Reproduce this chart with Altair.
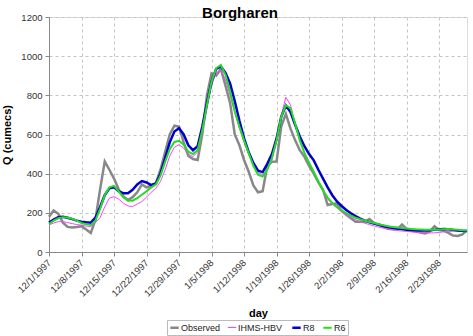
import altair as alt
import pandas as pd

# ---------------- data ----------------
start_date = "1997-12-01"
n_days = 91
dates = pd.date_range(start_date, periods=n_days, freq="D").strftime("%Y-%m-%d").tolist()

observed = [180, 212, 195, 150, 128, 125, 128, 132, 115, 97,
            165, 320, 462, 420, 375, 320, 285, 265, 280, 305,
            345, 330, 338, 350, 420, 510, 600, 645, 640, 560,
            490, 475, 470, 600, 800, 912, 900, 935, 850, 760,
            600, 545, 470, 410, 340, 305, 310, 440, 461, 462,
            640, 705, 630, 570, 520, 486, 440, 400, 355, 318,
            240, 245, 248, 210, 190, 172, 155, 155, 155, 168,
            148, 140, 128, 118, 116, 116, 140, 118, 110, 105,
            100, 95, 105, 132, 112, 108, 98, 84, 82, 90, 112]

ihms_hbv = [138, 148, 155, 155, 150, 145, 140, 137, 132, 130,
            150, 175, 230, 275, 283, 270, 250, 235, 232, 245,
            258, 280, 305, 325, 360, 420, 490, 535, 548, 530,
            500, 487, 510, 600, 730, 850, 915, 928, 880, 800,
            710, 630, 560, 500, 445, 405, 395, 420, 470, 560,
            700, 790, 750, 650, 570, 510, 460, 410, 360, 310,
            270, 245, 225, 205, 190, 176, 165, 155, 147, 140,
            133, 127, 122, 117, 113, 110, 107, 105, 103, 101,
            99, 98, 97, 98, 100, 103, 105, 106, 107, 108, 110]

r8 = [150, 165, 178, 180, 175, 168, 160, 155, 152, 150,
      175, 230, 290, 325, 330, 310, 300, 300, 318, 345,
      362, 355, 342, 350, 400, 480, 560, 615, 632, 600,
      545, 520, 540, 640, 760, 870, 935, 948, 915, 860,
      770, 670, 580, 510, 455, 415, 408, 450, 500, 580,
      690, 748, 715, 650, 590, 540, 500, 468, 420, 375,
      330, 290, 258, 235, 215, 198, 183, 170, 160, 152,
      145, 139, 133, 128, 124, 120, 117, 114, 112, 111,
      110, 110, 111, 113, 115, 117, 116, 113, 110, 108, 107]

r6 = [143, 160, 172, 178, 176, 170, 160, 148, 142, 138,
      160, 220, 290, 330, 338, 310, 280, 263, 262, 275,
      292, 310, 330, 345, 390, 460, 525, 562, 568, 548,
      512, 500, 520, 620, 750, 870, 938, 955, 905, 820,
      720, 640, 570, 505, 440, 395, 385, 420, 480, 570,
      690, 750, 735, 655, 570, 505, 455, 410, 360, 315,
      278, 250, 230, 212, 198, 185, 175, 167, 160, 153,
      148, 142, 137, 132, 128, 125, 122, 120, 118, 116,
      115, 114, 113, 113, 114, 116, 117, 115, 113, 111, 110]

series_names = ["Observed", "IHMS-HBV", "R8", "R6"]
series_values = [observed, ihms_hbv, r8, r6]
series_colors = ["#888888", "#ff44ff", "#0000cc", "#22dd22"]
series_widths = [2.5, 1, 2.5, 2]

tick_labels = ["12/1/1997", "12/8/1997", "12/15/1997", "12/22/1997", "12/29/1997",
               "1/5/1998", "1/12/1998", "1/19/1998", "1/26/1998", "2/2/1998",
               "2/9/1998", "2/16/1998", "2/23/1998"]
domain_end = "3/1/1998"
y_ticks = [0, 200, 400, 600, 800, 1000, 1200]

# ---------------- build ----------------
rows = []
for name, vals in zip(series_names, series_values):
    for d, v in zip(dates, vals):
        rows.append({"date": d, "series": name, "Q": v})
df = pd.DataFrame(rows)


def to_dt(label):
    m, d, y = (int(p) for p in label.split("/"))
    return alt.DateTime(year=y, month=m, date=d, utc=True)


FONT = "Liberation Sans"
GRID = "#c4c4c4"

x_enc = alt.X(
    "date:T",
    scale=alt.Scale(type="utc", domain=[to_dt(tick_labels[0]), to_dt(domain_end)]),
    axis=alt.Axis(
        values=[to_dt(t) for t in tick_labels],
        format="%-m/%-d/%Y",
        labelAngle=-45,
        labelAlign="right",
        labelBaseline="middle",
        labelFontSize=9.5,
        labelFont=FONT,
        labelColor="#333333",
        labelOverlap=False,
        labelPadding=5,
        tickSize=4,
        tickColor="#888888",
        domainColor="#888888",
        grid=True,
        gridColor=GRID,
        gridDash=[3, 3],
        title="day",
        titleFont=FONT,
        titleFontSize=11,
        titleFontWeight="bold",
        titleColor="#000000",
        titleX=209,
        titleY=55,
        titleBaseline="top",
    ),
)

y_enc = alt.Y(
    "Q:Q",
    scale=alt.Scale(domain=[0, 1200], nice=False),
    axis=alt.Axis(
        values=y_ticks,
        format="d",
        labelFontSize=9.5,
        labelFont=FONT,
        labelColor="#333333",
        labelPadding=3,
        tickSize=4,
        tickColor="#888888",
        domainColor="#888888",
        grid=True,
        gridColor=GRID,
        gridDash=[3, 3],
        title="Q (cumecs)",
        titleFont=FONT,
        titleFontSize=11,
        titleFontWeight="bold",
        titleColor="#000000",
        titleX=-37,
        titleY=117.5,
        titleAngle=-90,
        titleAlign="center",
        titleBaseline="bottom",
    ),
)

legend = alt.Legend(
    title=None,
    orient="none",
    legendX=118,
    legendY=303,
    direction="horizontal",
    symbolType="stroke",
    symbolSize=70,
    labelFont=FONT,
    labelFontSize=9,
    labelColor="#222222",
    labelOffset=1,
    columnPadding=4,
    strokeColor="#bbbbbb",
    padding=2,
)

chart = (
    alt.Chart(df)
    .mark_line(interpolate="linear")
    .encode(
        x=x_enc,
        y=y_enc,
        color=alt.Color("series:N", scale=alt.Scale(domain=series_names, range=series_colors),
                        legend=legend, sort=series_names),
        strokeWidth=alt.StrokeWidth("series:N",
                                    scale=alt.Scale(type="ordinal", domain=series_names, range=series_widths),
                                    legend=legend, sort=series_names),
    )
    .properties(
        width=418,
        height=235,
        title=alt.TitleParams("Borgharen", font=FONT, fontSize=15, fontWeight="bold", anchor="middle",
                              offset=0, dy=9, dx=-18, color="#000000"),
        autosize=alt.AutoSizeParams(type="none"),
        padding={"left": 49, "top": 17, "right": 6, "bottom": 84},
    )
    .configure_view(stroke="#888888", strokeWidth=1)
    .configure(background="white")
)

chart.save("out.html", embed_options={"renderer": "svg", "actions": False})
